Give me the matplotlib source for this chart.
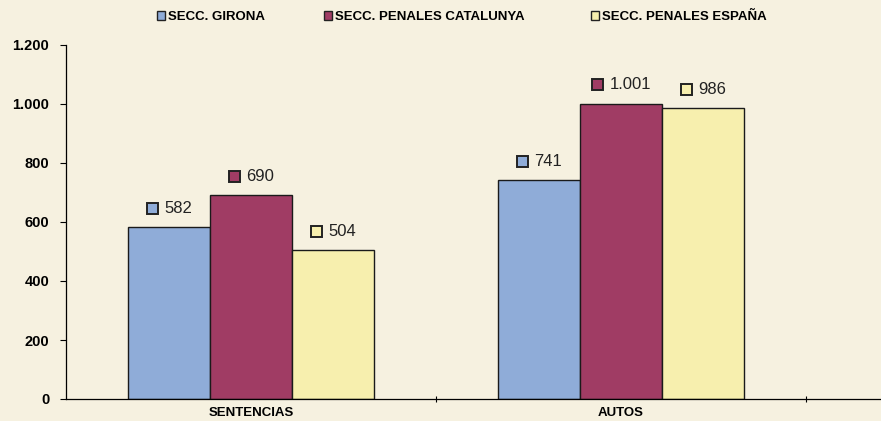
import matplotlib.pyplot as plt
from matplotlib.patches import Patch, Rectangle
from matplotlib.offsetbox import AnnotationBbox, DrawingArea, HPacker, TextArea
from matplotlib.ticker import FuncFormatter

CATEGORIES = ["SENTENCIAS", "AUTOS"]
SERIES = ["SECC. GIRONA", "SECC. PENALES CATALUNYA", "SECC. PENALES ESPAÑA"]
GIRONA = [582, 741]
CATALUNYA = [690, 1001]
ESPANA = [504, 986]

COLORS = ["#8facd8", "#a03c64", "#f7efae"]
BG = "#f6f1e0"

# left edge (px) of each legend entry along the top
LEGEND_X = [157, 324, 591]

plt.rcParams["font.family"] = ["Liberation Sans", "DejaVu Sans"]


def fmt_num(v):
    return f"{int(v):,}".replace(",", ".")


fig = plt.figure(figsize=(8.81, 4.21), dpi=100, facecolor=BG)
ax = fig.add_axes([66 / 881, 22 / 421, 1 - 66 / 881, 354 / 421])
ax.set_facecolor(BG)

width = 0.222
values = [GIRONA, CATALUNYA, ESPANA]
for i, (vals, color) in enumerate(zip(values, COLORS)):
    xs = [c + (i - 1) * width for c in range(len(CATEGORIES))]
    ax.bar(xs, vals, width=width, color=color, edgecolor="#1a1a1a", linewidth=1.0, zorder=2)
    for x, v in zip(xs, vals):
        da = DrawingArea(9, 9, 0, 0)
        da.add_artist(Rectangle((0.5, 0.5), 8, 8, facecolor=color, edgecolor="#222222", linewidth=1.4))
        ta = TextArea(fmt_num(v), textprops=dict(fontsize=12, color="#222222"))
        box = HPacker(children=[da, ta], align="center", pad=0, sep=4)
        ab = AnnotationBbox(box, (x, v), xybox=(0, 19), xycoords="data",
                            boxcoords="offset pixels",
                            frameon=False, box_alignment=(0.5, 0.5))
        ax.add_artist(ab)

ax.set_ylim(0, 1200)
ax.set_xlim(-0.5, (881 - 66) / 370 - 0.5)
ax.set_yticks(range(0, 1201, 200))
ax.yaxis.set_major_formatter(FuncFormatter(lambda v, p: fmt_num(v)))
ax.set_xticks(range(len(CATEGORIES)))
ax.set_xticklabels(CATEGORIES, fontsize=9.5, fontweight="bold")
ax.tick_params(axis="x", length=0, pad=6)
ax.set_xticks([0.5, 1.5], minor=True)
ax.tick_params(axis="x", which="minor", length=4, direction="inout", width=0.8)
ax.tick_params(axis="y", length=4, width=0.8, labelsize=10.5, pad=8)
for lab in ax.get_yticklabels():
    lab.set_fontweight("bold")

for s in ["top", "right"]:
    ax.spines[s].set_visible(False)
ax.spines["left"].set_linewidth(0.9)
ax.spines["bottom"].set_linewidth(0.9)

for name, color, lx in zip(SERIES, COLORS, LEGEND_X):
    h = Patch(facecolor=color, edgecolor="#222222", linewidth=1.0)
    fig.legend([h], [name], loc="center left", bbox_to_anchor=(lx / 881, 1 - 17 / 421),
               frameon=False, prop=dict(weight="bold", size=9.5), borderpad=0,
               borderaxespad=0, handlelength=0.6, handleheight=0.6, handletextpad=0.25)

fig.savefig("out.png", dpi=100, facecolor=BG)
